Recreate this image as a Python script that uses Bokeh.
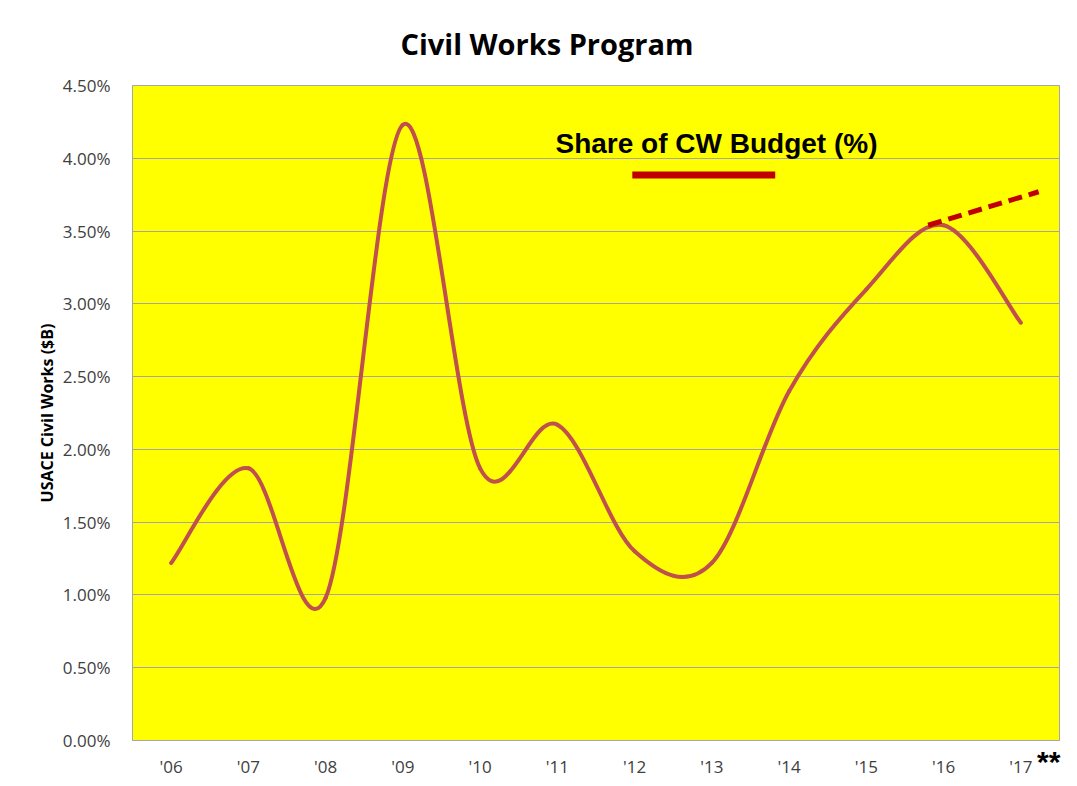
from bokeh.plotting import figure
from bokeh.models import (Range1d, FixedTicker, PrintfTickFormatter, Label, LinearAxis,
                          CustomJSTickFormatter)
from bokeh.embed import file_html
from bokeh.resources import INLINE
import numpy as np

# ---- data ----
years = ["'06", "'07", "'08", "'09", "'10", "'11", "'12", "'13", "'14", "'15", "'16", "'17"]
share = [1.22, 1.87, 0.98, 4.23, 1.87, 2.17, 1.30, 1.22, 2.40, 3.10, 3.54, 2.87]
# projected trend (dashed): positions on the year axis (index units) and values
proj_pos = [9.80, 11.23]
proj_share = [3.54, 3.77]
y_ticks = [0.0, 0.5, 1.0, 1.5, 2.0, 2.5, 3.0, 3.5, 4.0, 4.5]
legend_text = "Share of CW Budget (%)"
legend_pos = [5.97, 7.82]
legend_share = 3.885
legend_text_pos = (4.976, 4.10)
footnote_mark = "**"
footnote_pos = 11.36

CURVE = "#C0504D"
DARKRED = "#C00000"
GRID = "#A6A6A6"

p = figure(width=1069, height=784,
           x_range=Range1d(-0.5, len(years) - 0.5), y_range=Range1d(0, 4.5),
           output_backend="svg", toolbar_location=None,
           background_fill_color="#FFFF00", border_fill_color="white",
           min_border_left=132, min_border_right=10,
           min_border_top=85, min_border_bottom=44)

# title
p.title.text = "Civil Works Program"
p.title.text_font = "Open Sans"
p.title.text_font_style = "bold"
p.title.text_font_size = "29px"
p.title.text_color = "black"
p.title.align = "left"
p.title.offset = 268
p.title.standoff = 41
p.title.vertical_align = "top"

# smooth curve via Bezier segments (Excel-style smoothing)
xs = np.arange(len(share), dtype=float)
ys = np.array(share, dtype=float)
n = len(xs)
x0l, y0l, x1l, y1l, cx0l, cy0l, cx1l, cy1l = [], [], [], [], [], [], [], []
for i in range(n - 1):
    a = max(i - 1, 0)
    d = min(i + 2, n - 1)
    x0l.append(xs[i]); y0l.append(ys[i])
    x1l.append(xs[i + 1]); y1l.append(ys[i + 1])
    cx0l.append(xs[i] + (xs[i + 1] - xs[a]) / 6.0)
    cy0l.append(ys[i] + (ys[i + 1] - ys[a]) / 6.0)
    cx1l.append(xs[i + 1] - (xs[d] - xs[i]) / 6.0)
    cy1l.append(ys[i + 1] - (ys[d] - ys[i]) / 6.0)
p.bezier(x0=x0l, y0=y0l, x1=x1l, y1=y1l, cx0=cx0l, cy0=cy0l, cx1=cx1l, cy1=cy1l,
         line_color=CURVE, line_width=4, line_cap="round")

# projection dashed line
p.line(proj_pos, proj_share, line_color=DARKRED, line_width=5, line_dash="14 7")

# legend-like annotation
p.add_layout(Label(x=legend_text_pos[0], y=legend_text_pos[1], text=legend_text,
                   text_font="Liberation Sans", text_font_style="bold",
                   text_font_size="28px", text_color="black",
                   text_baseline="alphabetic"))
p.segment(x0=[legend_pos[0]], y0=[legend_share], x1=[legend_pos[1]], y1=[legend_share],
          line_color=DARKRED, line_width=7)

# axes
p.xaxis.ticker = FixedTicker(ticks=list(range(len(years))))
p.xaxis.major_label_overrides = {i: y for i, y in enumerate(years)}
p.yaxis.ticker = FixedTicker(ticks=y_ticks)
p.yaxis.formatter = PrintfTickFormatter(format="%.2f%%")
for ax in (p.xaxis, p.yaxis):
    ax.major_label_text_font = "Open Sans"
    ax.major_label_text_font_size = "17px"
    ax.major_label_text_color = "#404040"
    ax.major_tick_line_color = None
    ax.minor_tick_line_color = None
    ax.axis_line_color = GRID
p.xaxis.major_label_standoff = 8
p.yaxis.major_label_standoff = 16
p.yaxis.axis_label = "USACE Civil Works ($B)"
p.yaxis.axis_label_text_font = "Open Sans"
p.yaxis.axis_label_text_font_style = "bold"
p.yaxis.axis_label_text_font_size = "16px"
p.yaxis.axis_label_text_color = "black"
p.yaxis.axis_label_standoff = 2

# "**" footnote mark after '17 (secondary bottom axis pulled up beside the labels)
star_axis = LinearAxis(ticker=FixedTicker(ticks=[footnote_pos]),
                       formatter=CustomJSTickFormatter(code="return %r;" % footnote_mark),
                       axis_line_color=None, major_tick_line_color=None,
                       minor_tick_line_color=None,
                       major_label_text_font="Liberation Sans",
                       major_label_text_font_style="bold",
                       major_label_text_font_size="30px",
                       major_label_text_color="black",
                       major_label_standoff=-42)
p.add_layout(star_axis, "below")

p.xgrid.grid_line_color = None
p.ygrid.grid_line_color = GRID
p.ygrid.grid_line_width = 1
p.outline_line_color = GRID

open("out.html", "w").write(file_html(p, INLINE))
